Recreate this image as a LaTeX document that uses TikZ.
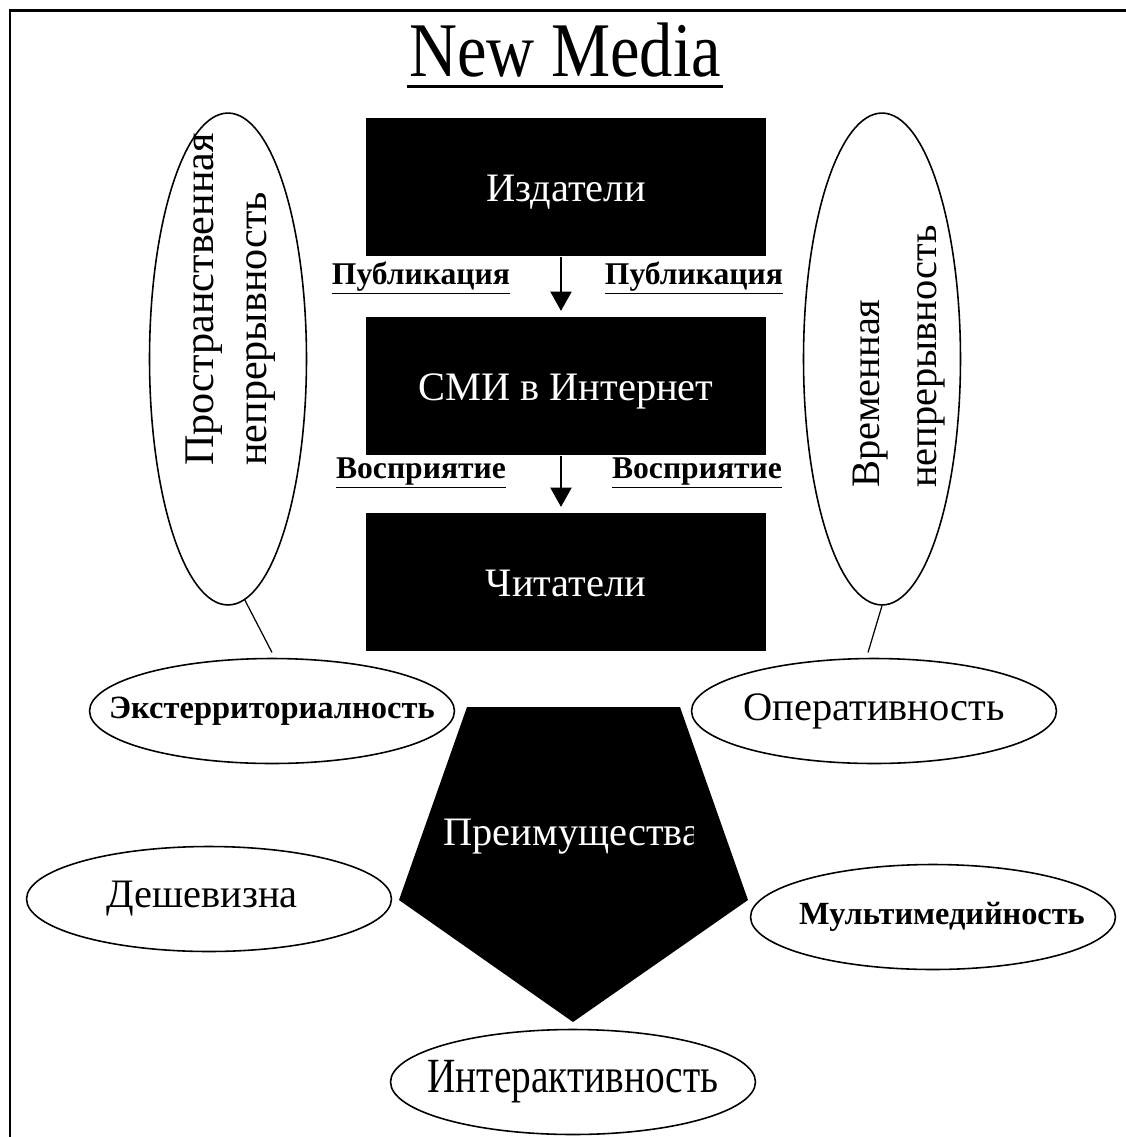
\documentclass[tikz,border=0pt]{standalone}
\usepackage{fontspec}
\usepackage{graphicx}
\setmainfont{LiberationSerif}[Extension=.ttf,UprightFont=*-Regular,BoldFont=*-Bold]
\usetikzlibrary{arrows.meta,shapes.geometric}

\tikzset{
  blackbox/.style={fill=black,text=white,minimum width=8cm,minimum height=2.78cm,
    text height=16pt,text depth=0pt,font=\fontsize{23}{27}\selectfont},
  oval/.style={draw,line width=0.9pt,ellipse,minimum width=7.3cm,minimum height=2.1cm,inner sep=0pt},
  tall oval/.style={draw,line width=0.9pt,ellipse,minimum width=3.14cm,minimum height=9.84cm},
  lbl/.style={font=\bfseries\fontsize{18}{21}\selectfont,inner sep=1pt},
  flow/.style={-{Triangle[length=11pt,width=12pt]},line width=1.1pt,shorten >=3pt}
}

\begin{document}
\begin{tikzpicture}[x=0.02cm,y=-0.02cm]
\useasboundingbox (0,0) rectangle (1126,1137);
\draw[line width=1.7pt] (1126,10) -- (10,10) -- (10,1137);

\node[anchor=base,inner sep=1pt,font=\fontsize{44}{50}\selectfont] (title) at (565,76) {\scalebox{0.86}[1]{New Media}};
\draw[line width=2.2pt] ([yshift=-6pt]title.base west) -- ([yshift=-6pt]title.base east);

\node[blackbox] (izd) at (566,187) {Издатели};
\node[blackbox] (smi) at (566,386) {СМИ в Интернет};
\node[blackbox] (chit) at (566,582) {Читатели};
\draw[flow] ([xshift=-0.1cm]izd.south) -- ([xshift=-0.1cm]smi.north);
\draw[flow] ([xshift=-0.1cm]smi.south) -- ([xshift=-0.1cm]chit.north);

\node[lbl,anchor=base] (pubL) at (421,284) {\underline{Публикация}};
\node[lbl,anchor=base] (pubR) at (694,284) {\underline{Публикация}};
\node[lbl,anchor=base] (vospL) at (421,478) {\underline{Восприятие}};
\node[lbl,anchor=base] (vospR) at (697,478) {\underline{Восприятие}};

\node[tall oval] (space) at (228,359) {};
\node[tall oval] (time) at (882,359) {};
\node[rotate=90,anchor=west,align=left,font=\fontsize{24}{30}\selectfont] (spaceT) at (231,472)
  {Пространственная\\непрерывность};
\node[rotate=90,anchor=west,align=left,font=\fontsize{23}{32}\selectfont] (timeT) at (899,494)
  {Временная\\непрерывность};

\node[oval,label={[font=\bfseries\fontsize{18.5}{22}\selectfont]center:Экстерриториалность}] (ext) at (272,711) {};
\node[oval,label={[font=\fontsize{23}{27}\selectfont]center:Оперативность}] (oper) at (874,711) {};
\node[oval,label={[font=\fontsize{23}{28}\selectfont,xshift=-0.14cm]center:Дешевизна}] (desh) at (209,899) {};
\node[oval,label={[font=\bfseries\fontsize{18.4}{21}\selectfont,xshift=0.18cm]center:Мультимедийность}] (multi) at (933,917) {};
\node[oval,label={[font=\fontsize{28}{32}\selectfont]center:\scalebox{0.8}[1]{Интерактивность}}] (inter) at (573,1082) {};

\draw[line width=0.7pt] (space.-86) -- ([yshift=3pt]ext.north);
\draw[line width=0.7pt] (time.-90) -- ([xshift=-0.12cm,yshift=3pt]oper.north);

\fill (467,707) -- (680,707) -- (748,900) -- (573,1022) -- (399,900) -- cycle;
\begin{scope}
\clip (399,700) rectangle (693,1030);
\node[text=white,font=\fontsize{23}{27}\selectfont] (adv) at (572,837) {Преимущества};
\end{scope}
\end{tikzpicture}
\end{document}
